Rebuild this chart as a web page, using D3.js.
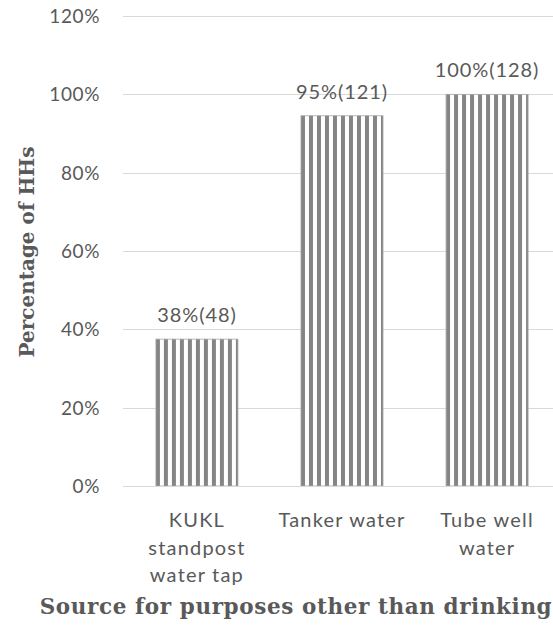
<!DOCTYPE html>
<html>
<head>
<meta charset="utf-8">
<script src="https://cdn.jsdelivr.net/npm/d3@7"></script>
<style>
  html, body { margin: 0; padding: 0; background: #ffffff; }
  svg { display: block; }
</style>
</head>
<body>
<svg id="chart" width="553" height="627"></svg>
<script>
// Sources used for purposes other than drinking (n = 128 households)
const categories = [
  ["KUKL", "standpost", "water tap"],
  ["Tanker water"],
  ["Tube well", "water"]
];
const households = [48, 121, 128];
const totalHouseholds = 128;
const barLabels = ["38%(48)", "95%(121)", "100%(128)"];
const yTicks = [0, 0.2, 0.4, 0.6, 0.8, 1.0, 1.2];
const yTickLabels = ["0%", "20%", "40%", "60%", "80%", "100%", "120%"];

const svg = d3.select("#chart");
const textColor = "#595959";
const sansFont = "Lato, 'Open Sans', sans-serif";
const serifFont = "'DejaVu Serif', 'Liberation Serif', serif";

const shares = households.map(n => n / totalHouseholds);

const x = d3.scaleBand()
  .domain(d3.range(categories.length))
  .range([124, 560])
  .paddingInner(0.4345)
  .paddingOuter(0.22);

const y = d3.scaleLinear().domain([0, 1.2]).range([486, 16]);

// Gridlines
svg.append("g")
  .selectAll("line")
  .data(yTicks)
  .join("line")
  .attr("x1", 123)
  .attr("x2", 560)
  .attr("y1", d => Math.round(y(d)) + 0.5)
  .attr("y2", d => Math.round(y(d)) + 0.5)
  .attr("stroke", "#d9d9d9")
  .attr("stroke-width", 1);

// Y tick labels
svg.append("g")
  .selectAll("text")
  .data(yTicks)
  .join("text")
  .attr("x", 100)
  .attr("y", d => y(d))
  .attr("dy", "0.36em")
  .attr("text-anchor", "end")
  .attr("font-family", sansFont)
  .attr("font-size", 19)
  .attr("letter-spacing", 0.6)
  .attr("fill", textColor)
  .text((d, i) => yTickLabels[i]);

// Striped fill, one pattern per bar so stripes start at the bar's left edge
const defs = svg.append("defs");
shares.forEach((d, i) => {
  const p = defs.append("pattern")
    .attr("id", "stripes" + i)
    .attr("patternUnits", "userSpaceOnUse")
    .attr("x", x(i))
    .attr("y", 0)
    .attr("width", 8)
    .attr("height", 8);
  p.append("rect").attr("width", 8).attr("height", 8).attr("fill", "#ffffff");
  p.append("rect").attr("width", 4).attr("height", 8).attr("fill", "#858585");
});

// Bars
svg.append("g")
  .selectAll("rect")
  .data(shares)
  .join("rect")
  .attr("x", (d, i) => x(i))
  .attr("y", d => y(d))
  .attr("width", x.bandwidth())
  .attr("height", d => y(0) - y(d))
  .attr("fill", (d, i) => `url(#stripes${i})`)
  .attr("stroke", "#a6a6a6")
  .attr("stroke-width", 0.8);

// Baseline axis line
svg.append("line")
  .attr("x1", 123).attr("x2", 560)
  .attr("y1", Math.round(y(0)) + 0.5).attr("y2", Math.round(y(0)) + 0.5)
  .attr("stroke", "#d9d9d9");

// Value labels
svg.append("g")
  .selectAll("text")
  .data(shares)
  .join("text")
  .attr("x", (d, i) => x(i) + x.bandwidth() / 2)
  .attr("y", d => y(d) - 17)
  .attr("text-anchor", "middle")
  .attr("font-family", sansFont)
  .attr("font-size", 20)
  .attr("letter-spacing", 0.9)
  .attr("fill", textColor)
  .text((d, i) => barLabels[i]);

// Category labels (wrapped)
const catG = svg.append("g");
categories.forEach((lines, i) => {
  const t = catG.append("text")
    .attr("text-anchor", "middle")
    .attr("font-family", sansFont)
    .attr("font-size", 20)
    .attr("letter-spacing", 1.2)
    .attr("fill", textColor);
  lines.forEach((ln, j) => {
    t.append("tspan")
      .attr("x", x(i) + x.bandwidth() / 2)
      .attr("y", 527 + j * 27.5)
      .text(ln);
  });
});

// Axis titles
svg.append("text")
  .attr("transform", `translate(34,252) rotate(-90)`)
  .attr("text-anchor", "middle")
  .attr("font-family", serifFont)
  .attr("font-weight", "bold")
  .attr("font-size", 20)
  .attr("fill", textColor)
  .text("Percentage of HHs");

svg.append("text")
  .attr("x", 296)
  .attr("y", 614)
  .attr("text-anchor", "middle")
  .attr("font-family", serifFont)
  .attr("font-weight", "bold")
  .attr("font-size", 21.5)
  .attr("letter-spacing", 0.6)
  .attr("fill", textColor)
  .text("Source for purposes other than drinking");
</script>
</body>
</html>
